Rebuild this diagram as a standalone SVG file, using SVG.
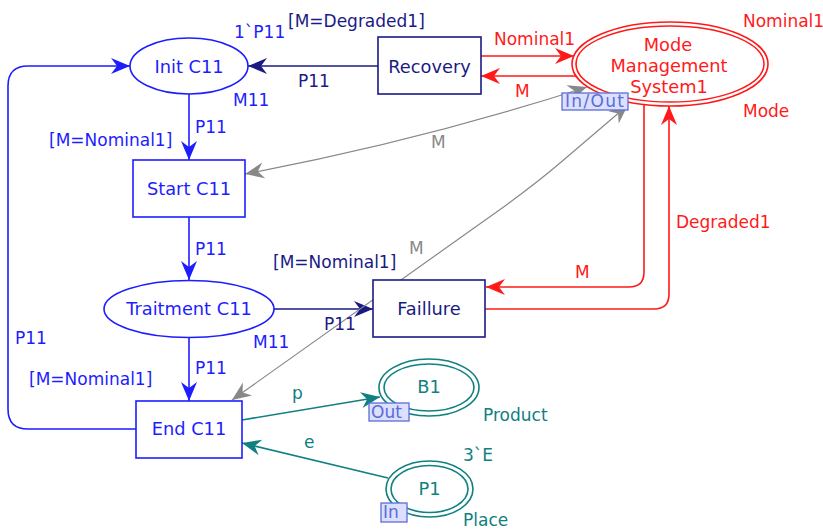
<svg xmlns="http://www.w3.org/2000/svg" width="823" height="529" viewBox="0 0 823 529">
<style>
text{font-family:"DejaVu Sans",Verdana,sans-serif;font-size:17px}
.n{font-size:17.8px;text-anchor:middle}
.blue{fill:#1d1dff}.navy{fill:#1a1a85}.red{fill:#ff1a1a}.teal{fill:#108080}.gray{fill:#888}
.sb{stroke:#1d1dff;fill:none;stroke-width:1.6}
.sn{stroke:#1a1a85;fill:none;stroke-width:1.6}
.sr{stroke:#ff1a1a;fill:none;stroke-width:1.6}
.st{stroke:#108080;fill:none;stroke-width:1.6}
.sg{stroke:#888;fill:none;stroke-width:1.2}
.box{fill:#fff}
.tag{fill:#dcdffd;stroke:#5a6ed8;stroke-width:1.3}
.tagt{fill:#5a6ed8;font-size:17px}
</style>
<defs>
<marker id="mb" viewBox="-20 -10 21 20" refX="0" refY="0" markerWidth="21" markerHeight="20" markerUnits="userSpaceOnUse" orient="auto"><path d="M0,0 L-19,-8 L-13,0 L-19,8 Z" fill="#1d1dff"/></marker>
<marker id="mn" viewBox="-20 -10 21 20" refX="0" refY="0" markerWidth="21" markerHeight="20" markerUnits="userSpaceOnUse" orient="auto"><path d="M0,0 L-19,-8 L-13,0 L-19,8 Z" fill="#1a1a85"/></marker>
<marker id="mr" viewBox="-20 -10 21 20" refX="0" refY="0" markerWidth="21" markerHeight="20" markerUnits="userSpaceOnUse" orient="auto"><path d="M0,0 L-19,-8 L-13,0 L-19,8 Z" fill="#ff1a1a"/></marker>
<marker id="mt" viewBox="-20 -10 21 20" refX="0" refY="0" markerWidth="21" markerHeight="20" markerUnits="userSpaceOnUse" orient="auto"><path d="M0,0 L-19,-8 L-13,0 L-19,8 Z" fill="#108080"/></marker>
<marker id="mg" viewBox="-20 -10 21 20" refX="0" refY="0" markerWidth="21" markerHeight="20" markerUnits="userSpaceOnUse" orient="auto-start-reverse"><path d="M0,0 L-19,-8 L-13,0 L-19,8 Z" fill="#888"/></marker>
</defs>

<g id="connectors">
<path class="sb" d="M189,94 V160" marker-end="url(#mb)"/>
<path class="sb" d="M189,217 V280" marker-end="url(#mb)"/>
<path class="sb" d="M189,338 V401" marker-end="url(#mb)"/>
<path class="sb" d="M136,429 H28 Q8,429 8,409 V86 Q8,66 28,66 H130" marker-end="url(#mb)"/>
<path class="sn" d="M378,66 H248" marker-end="url(#mn)"/>
<path class="sn" d="M274,309 H373" marker-end="url(#mn)"/>
<path class="sr" d="M481,56 H574" marker-end="url(#mr)"/>
<path class="sr" d="M576,76 H481" marker-end="url(#mr)"/>
<path class="sr" d="M644,105 V272 Q644,287 629,287 H486" marker-end="url(#mr)"/>
<path class="sr" d="M485,309 H654 Q669,309 669,294 V106" marker-end="url(#mr)"/>
<path class="sg" d="M245,174 Q420,141 587,87" marker-start="url(#mg)" marker-end="url(#mg)"/>
<path class="sg" d="M232,400 L505,206 Q539,181 560,163 L628,105" marker-start="url(#mg)" marker-end="url(#mg)"/>
<path class="st" d="M242,420 L380,397" marker-end="url(#mt)"/>
<path class="st" d="M388,478 L242,443" marker-end="url(#mt)"/>
</g>

<g id="init">
<ellipse class="sb box" cx="189" cy="66" rx="59" ry="28"/>
<text class="n blue" x="189" y="73">Init C11</text>
</g>
<g id="recovery">
<rect class="sn box" x="378" y="37" width="103" height="57"/>
<text class="n navy" x="429.5" y="73">Recovery</text>
</g>
<g id="mode">
<ellipse class="sr box" cx="670" cy="64" rx="98" ry="42"/>
<ellipse class="sr" cx="670" cy="64" rx="94" ry="38"/>
<text class="n red" x="668" y="51">Mode</text>
<text class="n red" x="669" y="72">Management</text>
<text class="n red" x="669" y="93">System1</text>
<rect class="tag" x="562" y="93" width="66" height="17"/>
<text class="tagt" x="565" y="107" textLength="59">In/Out</text>
</g>
<g id="start">
<rect class="sb box" x="133" y="160" width="112" height="57"/>
<text class="n blue" x="189" y="195">Start C11</text>
</g>
<g id="traitment">
<ellipse class="sb box" cx="189" cy="309" rx="85" ry="28.5"/>
<text class="n blue" x="189" y="315">Traitment C11</text>
</g>
<g id="faillure">
<rect class="sn box" x="373" y="280" width="112" height="57"/>
<text class="n navy" x="429" y="315">Faillure</text>
</g>
<g id="end">
<rect class="sb box" x="136" y="401" width="106" height="57"/>
<text class="n blue" x="189" y="435">End C11</text>
</g>
<g id="b1">
<ellipse class="st box" cx="429" cy="387.5" rx="50" ry="28.5"/>
<ellipse class="st" cx="429" cy="387.5" rx="45" ry="23.5"/>
<text class="n teal" x="429" y="393">B1</text>
<rect class="tag" x="369" y="403" width="40" height="18"/>
<text class="tagt" x="371" y="418">Out</text>
</g>
<g id="p1">
<ellipse class="st box" cx="429.5" cy="489" rx="43.5" ry="28"/>
<ellipse class="st" cx="429.5" cy="489" rx="38.5" ry="23.5"/>
<text class="n teal" x="429.5" y="495">P1</text>
<rect class="tag" x="381" y="503" width="26" height="19"/>
<text class="tagt" x="383" y="518">In</text>
</g>

<g id="labels">
<text class="navy" x="288" y="27">[M=Degraded1]</text>
<text class="blue" x="234" y="38">1`P11</text>
<text class="navy" x="298" y="87">P11</text>
<text class="blue" x="233" y="106">M11</text>
<text class="blue" x="195" y="133">P11</text>
<text class="blue" x="49" y="146">[M=Nominal1]</text>
<text class="red" x="494" y="45">Nominal1</text>
<text class="red" x="515" y="97">M</text>
<text class="red" x="743" y="27">Nominal1</text>
<text class="red" x="743" y="117">Mode</text>
<text class="gray" x="431" y="148">M</text>
<text class="blue" x="195" y="255">P11</text>
<text class="navy" x="273" y="268">[M=Nominal1]</text>
<text class="gray" x="409" y="254">M</text>
<text class="navy" x="324" y="330">P11</text>
<text class="blue" x="253" y="348">M11</text>
<text class="blue" x="15" y="344">P11</text>
<text class="red" x="676" y="228">Degraded1</text>
<text class="red" x="575" y="278">M</text>
<text class="blue" x="195" y="374">P11</text>
<text class="blue" x="29" y="385">[M=Nominal1]</text>
<text class="teal" x="292" y="399">p</text>
<text class="teal" x="304" y="448">e</text>
<text class="teal" x="483" y="421">Product</text>
<text class="teal" x="463" y="461">3`E</text>
<text class="teal" x="463" y="526">Place</text>
</g>
</svg>
